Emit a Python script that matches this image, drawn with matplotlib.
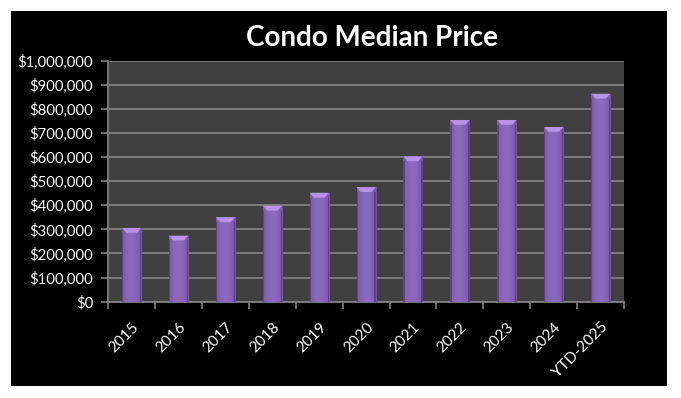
import matplotlib
matplotlib.use("Agg")
import matplotlib.pyplot as plt
import numpy as np
from matplotlib.patches import Rectangle, Polygon
from matplotlib.ticker import FuncFormatter, FixedLocator

plt.rcParams['font.family'] = ['Lato', 'DejaVu Sans']

# chart data
years = ['2015', '2016', '2017', '2018', '2019', '2020', '2021', '2022', '2023', '2024', 'YTD-2025']
median_price = [306000, 274000, 350000, 398000, 452000, 475000, 603000, 754000, 754000, 725000, 863000]
y_ticks = list(range(0, 1000001, 100000))

fig = plt.figure(figsize=(6.81, 3.98), dpi=100)
fig.patch.set_facecolor('white')
# black chart frame
frame = Rectangle((11 / 681, 1 - 386 / 398), 656 / 681, 375 / 398,
                  transform=fig.transFigure, facecolor='black',
                  edgecolor='none', zorder=-10)
fig.add_artist(frame)

ax = fig.add_axes([0.159, 0.242, 0.7573, 0.6055])
ax.set_zorder(1)
ax.set_facecolor('#404040')

x = np.arange(len(years))
bars = ax.bar(x, median_price, width=0.41, color='#7a58a6', edgecolor='none', zorder=2)

# horizontal shading across each bar, like the rounded Excel bars
grad = np.linspace(0, 1, 64)
shade = 0.55 + 0.45 * np.sin(np.pi * (0.15 + 0.75 * grad))
cols = np.zeros((1, 64, 3))
base = np.array([0x68, 0x48, 0x94]) / 255
light = np.array([0x8c, 0x6a, 0xbe]) / 255
for i in range(64):
    t = (shade[i] - 0.55) / 0.45
    cols[0, i] = base + (light - base) * t

cap_h = 20000
for b in bars:
    x0, w, h = b.get_x(), b.get_width(), b.get_height()
    im = ax.imshow(cols, extent=(x0, x0 + w, 0, h), aspect='auto', zorder=3,
                   interpolation='bilinear')
    im.set_clip_path(b)
    inset = w * 0.22
    cap = Polygon([(x0, h), (x0 + w, h), (x0 + w - inset, h - cap_h), (x0 + inset, h - cap_h)],
                  closed=True, facecolor='#b892e6', edgecolor='none', zorder=4)
    ax.add_patch(cap)
    # darker rims on each side
    ax.add_patch(Rectangle((x0, 0), w * 0.07, h - cap_h, facecolor='#54397a',
                           edgecolor='none', zorder=4, alpha=0.7))
    ax.add_patch(Rectangle((x0 + w * 0.93, 0), w * 0.07, h - cap_h, facecolor='#54397a',
                           edgecolor='none', zorder=4, alpha=0.7))

ax.set_xlim(-0.5, len(years) - 0.5)
ax.set_ylim(0, 1000000)

ax.set_yticks(y_ticks)
ax.yaxis.set_major_formatter(FuncFormatter(lambda v, p: '${:,.0f}'.format(v)))
ax.grid(axis='y', color='#808080', linewidth=1.3, zorder=1)
ax.set_axisbelow(True)

ax.set_xticks(x)
ax.set_xticklabels(years, rotation=45, ha='right', rotation_mode='anchor')
ax.xaxis.set_minor_locator(FixedLocator(np.arange(-0.5, len(years), 1.0)))
ax.tick_params(axis='x', which='major', length=0, pad=13, labelsize=11, colors='white')
ax.tick_params(axis='x', which='minor', length=5, color='#808080', width=1.2)
ax.tick_params(axis='y', length=5, color='#808080', width=1.2, labelsize=10.7,
               labelcolor='white', pad=6)

for s in ['top', 'right']:
    ax.spines[s].set_visible(False)
for s in ['left', 'bottom']:
    ax.spines[s].set_color('#808080')
    ax.spines[s].set_linewidth(1.3)

fig.text(372 / 681, 1 - 38 / 398, 'Condo Median Price', color='white', fontsize=20,
         fontweight='bold', ha='center', va='center')

fig.savefig('out.png', dpi=100, facecolor=fig.get_facecolor())
